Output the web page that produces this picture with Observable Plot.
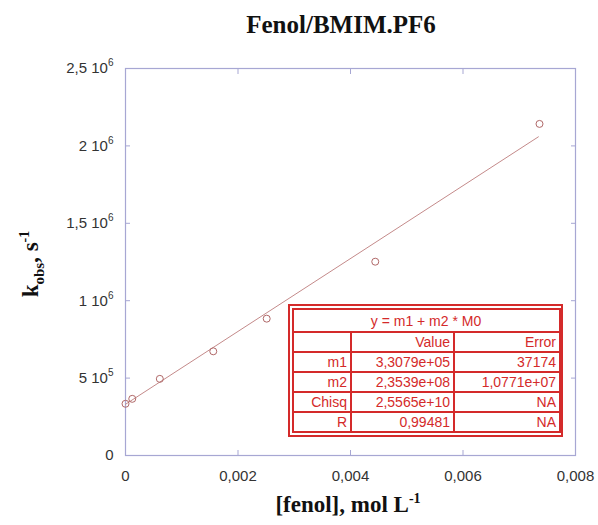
<!DOCTYPE html>
<html>
<head>
<meta charset="utf-8">
<script src="https://cdn.jsdelivr.net/npm/d3@7"></script>
<script src="https://cdn.jsdelivr.net/npm/@observablehq/plot@0.6"></script>
<style>
  body { margin: 0; background: #fff; }
  #wrap { position: relative; width: 598px; height: 525px; background: #fff; overflow: hidden; }
  #title { position: absolute; left: 84px; width: 514px; top: 12px; text-align: center;
           font: bold 25px/25px "Liberation Serif", "Times New Roman", serif; color: #111; }
  #chart { position: absolute; left: 0; top: 45px; }
  #fit { position: absolute; left: 288px; top: 304px; width: 267px; border: 2px solid #d42a2a;
         padding: 2px; background: #fff; }
  #fit table { border-collapse: collapse; width: 267px; table-layout: fixed; }
  #fit td { border: 2px solid #d42a2a; color: #d42a2a; font: 14px/16px "Liberation Sans", Arial, sans-serif;
            text-align: right; padding: 1px 3px 1px 2px; height: 16px; white-space: nowrap; }
  #fit td.head { text-align: center; height: 19px; }
</style>
</head>
<body>
<div id="wrap">
  <div id="title"></div>
  <div id="chart"></div>
  <div id="fit"></div>
</div>
<script>
// ---- data ----
const titleText = "Fenol/BMIM.PF6";
const fenol = [0, 0.00012, 0.00061, 0.00156, 0.00251, 0.00444, 0.00736];
const kobs  = [334000, 366000, 495000, 673000, 884000, 1252000, 2142000];

const xTicks = [0, 0.002, 0.004, 0.006, 0.008];
const xTickLabels = ["0", "0,002", "0,004", "0,006", "0,008"];
const yTicks = [0, 500000, 1000000, 1500000, 2000000, 2500000];
const yTickBase = ["0", "5 10", "1 10", "1,5 10", "2 10", "2,5 10"];
const yTickExp = ["", "5", "6", "6", "6", "6"];

// fit results (from the table in the figure)
const fitEquation = "y = m1 + m2 * M0";
const fitHeader = ["", "Value", "Error"];
const fitNames = ["m1", "m2", "Chisq", "R"];
const fitValues = ["3,3079e+05", "2,3539e+08", "2,5565e+10", "0,99481"];
const fitErrors = ["37174", "1,0771e+07", "NA", "NA"];
const m1 = 330790, m2 = 2.3539e8;
const fitRangeX = [0, 0.00734];

// ---- build ----
document.getElementById("title").textContent = titleText;

const points = fenol.map((x, i) => ({x, y: kobs[i]}));
const fitLine = fitRangeX.map(x => ({x, y: m1 + m2 * x}));

const frameColor = "#a7a7d3";
const xfmt = d => xTickLabels[xTicks.indexOf(d)];
const yfmt = d => yTickBase[yTicks.indexOf(d)];

const chart = Plot.plot({
  width: 598,
  height: 480,
  marginTop: 23,
  marginBottom: 70,
  marginLeft: 125,
  marginRight: 23,
  x: {domain: [0, 0.008]},
  y: {domain: [0, 2500000]},
  style: {fontFamily: "'Liberation Sans', Arial, sans-serif", fontSize: "15px", color: "#333", background: "#fff"},
  marks: [
    Plot.frame({stroke: frameColor, strokeWidth: 1.2}),
    Plot.axisX({anchor: "bottom", ticks: xTicks, tickSize: -5, tickPadding: 20, stroke: frameColor, tickFormat: xfmt, label: null, fill: "#333"}),
    Plot.axisX({anchor: "top", ticks: xTicks, tickSize: -5, stroke: frameColor, tickFormat: () => "", label: null}),
    Plot.axisY({anchor: "left", ticks: yTicks, tickSize: -5, tickPadding: 17, stroke: frameColor, tickFormat: yfmt, label: null, fill: "#333"}),
    Plot.axisY({anchor: "right", ticks: yTicks, tickSize: -5, stroke: frameColor, tickFormat: () => "", label: null}),
    Plot.line(fitLine, {x: "x", y: "y", stroke: "#c48a8a", strokeWidth: 1}),
    Plot.dot(points, {x: "x", y: "y", r: 3.5, stroke: "#b06868", strokeWidth: 1, fill: "none"})
  ]
});
document.getElementById("chart").appendChild(chart);

const svg = d3.select(chart);

// superscript exponents on the y tick labels
svg.selectAll("text").each(function() {
  const t = this.textContent;
  const i = yTickBase.indexOf(t);
  if (i > 0 && !this.closest("[aria-label='x-axis tick label']")) {
    d3.select(this).append("tspan").attr("dy", -7).style("font-size", "10px").text(yTickExp[i]);
  }
});

// axis titles with sub/superscripts
const xl = svg.append("text")
  .attr("x", 348).attr("y", 467)
  .attr("text-anchor", "middle")
  .style("font", "bold 23px 'Liberation Serif', 'Times New Roman', serif")
  .attr("fill", "#111");
xl.append("tspan").text("[fenol], mol L");
xl.append("tspan").attr("dy", -9).style("font-size", "14px").text("-1");

const yl = svg.append("text")
  .attr("transform", "translate(38,219) rotate(-90)")
  .attr("text-anchor", "middle")
  .style("font", "bold 23px 'Liberation Serif', 'Times New Roman', serif")
  .attr("fill", "#111");
yl.append("tspan").text("k");
yl.append("tspan").attr("dy", 6).style("font-size", "15px").text("obs");
yl.append("tspan").attr("dy", -6).text(", s");
yl.append("tspan").attr("dy", -9).style("font-size", "14px").text("-1");

// fit table
const tbl = d3.select("#fit").append("table");
const cols = tbl.append("colgroup");
cols.append("col").style("width", "58px");
cols.append("col").style("width", "103px");
cols.append("col").style("width", "106px");
tbl.append("tr").append("td").attr("colspan", 3).attr("class", "head").text(fitEquation);
const hr = tbl.append("tr");
fitHeader.forEach(h => hr.append("td").text(h));
fitNames.forEach((n, i) => {
  const r = tbl.append("tr");
  r.append("td").text(n);
  r.append("td").text(fitValues[i]);
  r.append("td").text(fitErrors[i]);
});
</script>
</body>
</html>
